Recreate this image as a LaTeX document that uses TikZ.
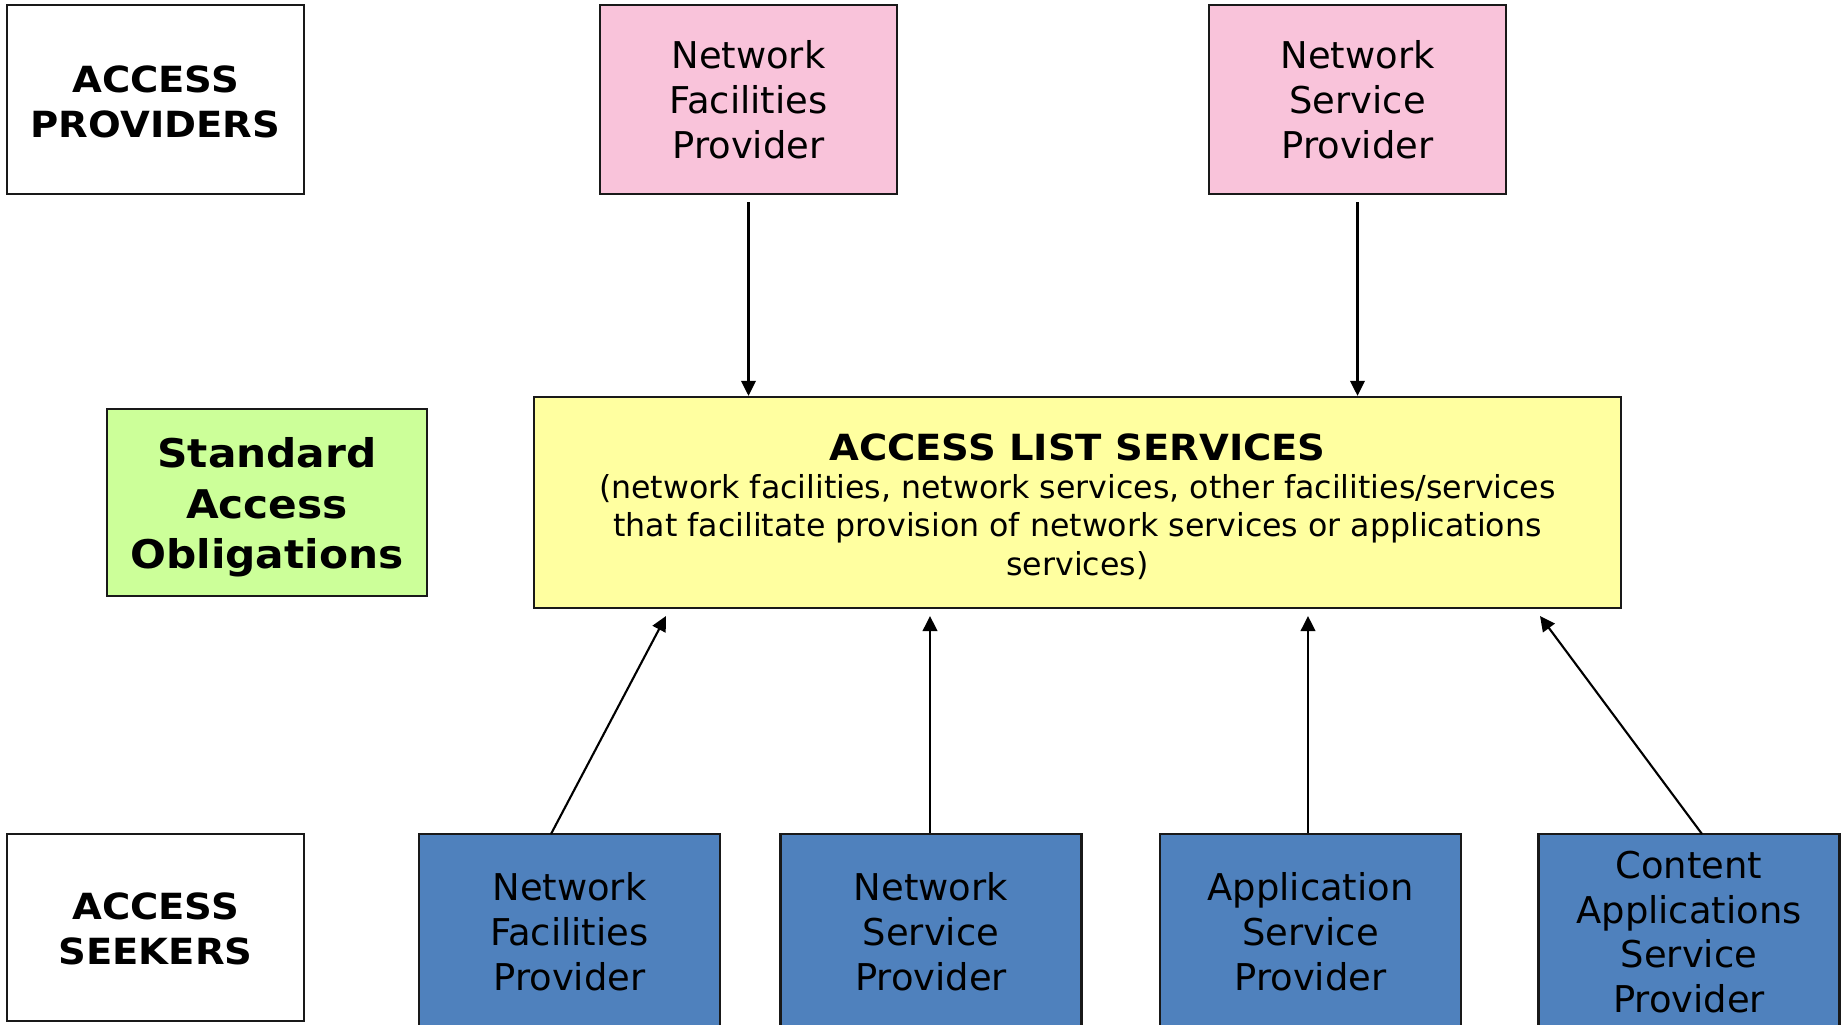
\documentclass[tikz,border=0pt]{standalone}
\usepackage{fontspec}
\setmainfont{DejaVu Sans}
\newfontfamily\widebold{DejaVu Sans}[FakeStretch=1.07]
\usetikzlibrary{arrows.meta}
\definecolor{pinkfill}{RGB}{249,195,218}
\definecolor{greenfill}{RGB}{204,255,153}
\definecolor{yellowfill}{RGB}{255,255,160}
\definecolor{bluefill}{RGB}{79,129,189}
\definecolor{edge}{RGB}{25,25,25}
\tikzset{
  box/.style={draw=edge, line width=1.35pt, align=center, inner sep=0pt,
    minimum width=5.94cm, minimum height=3.78cm},
  plain/.style={align=center, inner sep=0pt},
  lblfont/.style={font=\widebold\bfseries\fontsize{20.5}{25.4}\selectfont},
  provfont/.style={font=\fontsize{21}{25.5}\selectfont},
  pinkbox/.style={box, fill=pinkfill, provfont},
  bluebox/.style={box, fill=bluefill, provfont, minimum width=6.02cm, minimum height=3.92cm},
  arr/.style={draw=black, line width=1.2pt, -{Triangle[length=0.30cm,width=0.29cm]}}
}
\begin{document}
\begin{tikzpicture}[x=0.02cm,y=-0.02cm]
\clip (0,0) rectangle (1841,1024);
\fill[white] (0,0) rectangle (1841,1024);

% top row
\node[box, fill=white] (ap) at (155.5,99.5) {};
\node[plain, lblfont] (apt) at (155.5,102) {ACCESS\\PROVIDERS};
\node[pinkbox] (pnf) at (748.5,99.5) {Network\\Facilities\\Provider};
\node[pinkbox] (pns) at (1357.5,99.5) {Network\\Service\\Provider};

% middle row
\node[box, fill=greenfill, minimum width=6.4cm, minimum height=3.74cm] (sao) at (267,502.5) {};
\node[plain, font=\widebold\bfseries\fontsize{22.5}{28.7}\selectfont] (saot) at (267,507.5)
  {Standard\\Access\\Obligations};
\node[box, fill=yellowfill, minimum width=21.74cm, minimum height=4.22cm] (als) at (1077.5,502.5) {};
\node[plain, font=\fontsize{18}{22}\selectfont] (alst) at (1077.5,507)
  {{\widebold\bfseries\fontsize{20.5}{22}\selectfont ACCESS LIST SERVICES}\\[-0.7pt]
   (network facilities, network services, other facilities/services\\
   that facilitate provision of network services or applications\\
   services)};

% bottom row
\node[box, fill=white, minimum height=3.74cm] (as) at (155.5,927.5) {};
\node[plain, lblfont] (ast) at (155.5,929) {ACCESS\\SEEKERS};
\node[bluebox] (b1) at (569.5,932) {Network\\Facilities\\Provider};
\node[bluebox] (b2) at (931,932) {Network\\Service\\Provider};
\node[bluebox] (b3) at (1310.5,932) {Application\\Service\\Provider};
\node[bluebox] (b4) at (1689,932) {Content\\Applications\\Service\\Provider};

% arrow end points
\coordinate (s1) at (551,834);
\coordinate (e1) at (666,616);
\coordinate (e2) at (930,616);
\coordinate (e3) at (1308,616);
\coordinate (s4) at (1702,834);
\coordinate (e4) at (1540,616);

\draw[arr] ([yshift=-0.14cm]pnf.south) -- (pnf.south |- als.north);
\draw[arr] ([yshift=-0.14cm]pns.south) -- (pns.south |- als.north);

\draw[arr] (s1) -- (e1);
\draw[arr] (b2.north -| e2) -- (e2);
\draw[arr] (b3.north -| e3) -- (e3);
\draw[arr] (s4) -- (e4);
\end{tikzpicture}
\end{document}
